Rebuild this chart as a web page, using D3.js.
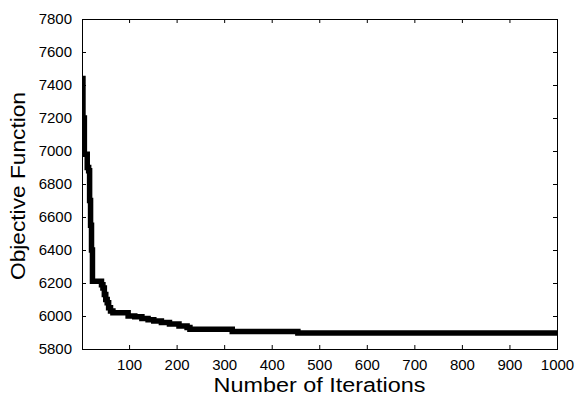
<!DOCTYPE html>
<html><head><meta charset="utf-8">
<script src="https://cdn.jsdelivr.net/npm/d3@7"></script>
<style>
html,body{margin:0;padding:0;background:#fff;}
svg{display:block;font-family:"Liberation Sans",Arial,Helvetica,sans-serif;}
</style></head>
<body>
<svg id="c" width="576" height="398"></svg>
<script>
// Step-wise best objective value (iteration at which each level starts)
const iterations = [1, 3, 6, 12, 15, 17, 19, 21, 23, 42, 45, 48, 51, 54, 57, 61, 66, 98, 112, 127, 140, 152, 168, 185, 205, 222, 228, 317, 455, 1000];
const objective  = [7440, 7200, 6980, 6900, 6880, 6700, 6550, 6400, 6210, 6190, 6170, 6130, 6100, 6080, 6050, 6030, 6020, 6000, 5995, 5985, 5978, 5970, 5960, 5952, 5940, 5930, 5920, 5906, 5897, 5897];
const xTicks = [100, 200, 300, 400, 500, 600, 700, 800, 900, 1000];
const yTicks = [5800, 6000, 6200, 6400, 6600, 6800, 7000, 7200, 7400, 7600, 7800];
const xTitle = "Number of Iterations";
const yTitle = "Objective Function";

const svg = d3.select("#c");
const m = {l: 82, r: 557, t: 19, b: 349};
const x = d3.scaleLinear().domain([1, 1000]).range([m.l, m.r]);
const y = d3.scaleLinear().domain([5800, 7800]).range([m.b, m.t]);

const data = iterations.map((d, i) => ({x: d, y: objective[i]}));

const g = svg.append("g");
// clip
svg.append("clipPath").attr("id", "clip").append("rect")
  .attr("x", m.l).attr("y", m.t).attr("width", m.r - m.l).attr("height", m.b - m.t);

g.append("path").datum(data)
  .attr("clip-path", "url(#clip)")
  .attr("fill", "none").attr("stroke", "#000").attr("stroke-width", 5.5)
  .attr("stroke-linejoin", "miter")
  .attr("d", d3.line().x(d => x(d.x)).y(d => y(d.y)).curve(d3.curveStepAfter));

function styleAxis(sel) {
  sel.select(".domain").remove();
  sel.selectAll("line").attr("stroke", "#000").attr("stroke-width", 1);
  sel.selectAll("text").attr("font-size", 15).attr("fill", "#000");
}
// bottom
svg.append("g").attr("transform", `translate(0,${m.b})`)
  .call(d3.axisBottom(x).tickValues(xTicks).tickSizeInner(-4).tickSizeOuter(0).tickPadding(10).tickFormat(d3.format("d")))
  .call(styleAxis);
// top
svg.append("g").attr("transform", `translate(0,${m.t})`)
  .call(d3.axisTop(x).tickValues(xTicks).tickSizeInner(-4).tickSizeOuter(0).tickFormat(""))
  .call(styleAxis);
// left
svg.append("g").attr("transform", `translate(${m.l},0)`)
  .call(d3.axisLeft(y).tickValues(yTicks).tickSizeInner(-4).tickSizeOuter(0).tickPadding(10).tickFormat(d3.format("d")))
  .call(styleAxis);
// right
svg.append("g").attr("transform", `translate(${m.r},0)`)
  .call(d3.axisRight(y).tickValues(yTicks).tickSizeInner(-4).tickSizeOuter(0).tickFormat(""))
  .call(styleAxis);

// remove tick marks at the corners
svg.selectAll(".tick").filter(d => d === 5800 || d === 7800).selectAll("line").remove();

// frame
svg.append("rect").attr("x", m.l + 0.5).attr("y", m.t + 0.5)
  .attr("width", m.r - m.l).attr("height", m.b - m.t)
  .attr("fill", "none").attr("stroke", "#000").attr("stroke-width", 1);

svg.append("text").attr("x", (m.l + m.r) / 2).attr("y", 392)
  .attr("text-anchor", "middle").attr("font-size", 20)
  .attr("textLength", 212).attr("lengthAdjust", "spacingAndGlyphs")
  .text(xTitle);

svg.append("text").attr("transform", `translate(25,${(m.t + m.b) / 2 + 2}) rotate(-90)`)
  .attr("text-anchor", "middle").attr("font-size", 20)
  .attr("textLength", 188).attr("lengthAdjust", "spacingAndGlyphs")
  .text(yTitle);
</script>
</body></html>
